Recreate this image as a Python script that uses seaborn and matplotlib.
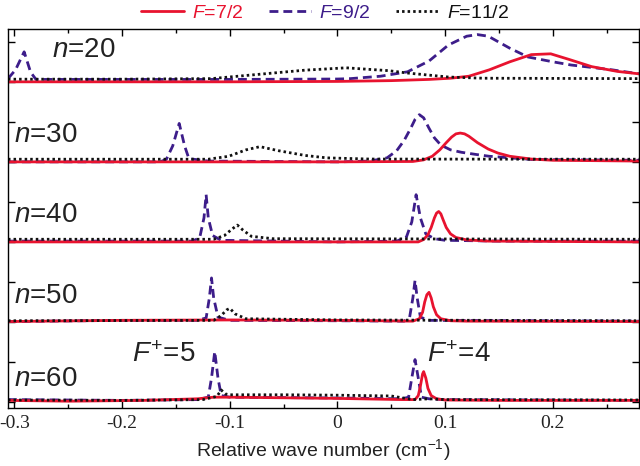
import numpy as np
import pandas as pd
import matplotlib
matplotlib.use('Agg')
import matplotlib.pyplot as plt
import seaborn as sns
from matplotlib.ticker import MultipleLocator, FuncFormatter
from matplotlib.lines import Line2D

# spectra: relative wave number (cm-1) vs signal
x20_r = [-0.306, -0.2, -0.1, 0.0, 0.05, 0.085, 0.105, 0.122, 0.141, 0.16, 0.18, 0.198, 0.215, 0.236, 0.26, 0.28]
y20_r = [0, 0, 0, 0.005, 0.015, 0.03, 0.045, 0.07, 0.15, 0.25, 0.34, 0.35, 0.28, 0.19, 0.13, 0.1]
x20_b = [-0.306, -0.299, -0.291, -0.285, -0.28, -0.25, -0.1, 0.0, 0.012, 0.04, 0.065, 0.085, 0.103, 0.12, 0.13,
         0.14, 0.16, 0.177, 0.2, 0.217, 0.255, 0.28]
y20_b = [0.04, 0.15, 0.375, 0.12, 0.03, 0.03, 0.03, 0.035, 0.04, 0.07, 0.125, 0.26, 0.46, 0.57, 0.59,
         0.57, 0.42, 0.31, 0.25, 0.21, 0.15, 0.1]
x20_k = [-0.306, -0.2, -0.117, -0.068, -0.03, 0.008, 0.047, 0.065, 0.103, 0.135, 0.28]
y20_k = [0.033, 0.033, 0.04, 0.1, 0.146, 0.175, 0.14, 0.11, 0.06, 0.045, 0.04]

x30_r = [-0.306, 0.0, 0.07, 0.08, 0.088, 0.095, 0.101, 0.106, 0.11, 0.114, 0.118, 0.122, 0.13, 0.14, 0.149,
         0.16, 0.18, 0.2, 0.28]
y30_r = [0, 0, 0.005, 0.025, 0.07, 0.15, 0.24, 0.31, 0.35, 0.36, 0.35, 0.32, 0.24, 0.16, 0.11,
         0.07, 0.035, 0.02, 0.01]
x30_b = [-0.306, -0.165, -0.159, -0.153, -0.147, -0.142, -0.138, -0.12, 0.0, 0.03, 0.046, 0.055, 0.062, 0.068,
         0.072, 0.076, 0.08, 0.085, 0.09, 0.096, 0.105, 0.115, 0.13, 0.141, 0.18, 0.28]
y30_b = [0.0, 0.0, 0.03, 0.2, 0.48, 0.2, 0.04, 0.01, 0.0, 0.01, 0.05, 0.14, 0.27, 0.42,
         0.53, 0.59, 0.55, 0.42, 0.3, 0.21, 0.15, 0.12, 0.09, 0.07, 0.03, 0.02]
x30_k = [-0.306, -0.12, -0.101, -0.085, -0.072, -0.055, -0.03, -0.01, 0.03, 0.28]
y30_k = [0.033, 0.033, 0.07, 0.15, 0.19, 0.14, 0.08, 0.05, 0.035, 0.033]

x40_r = [-0.306, 0.0, 0.075, 0.08, 0.084, 0.087, 0.09, 0.092, 0.094, 0.096, 0.098, 0.101, 0.105, 0.11, 0.12,
         0.14, 0.28]
y40_r = [0, 0, 0.0, 0.03, 0.09, 0.18, 0.3, 0.36, 0.38, 0.35, 0.28, 0.18, 0.1, 0.055, 0.025,
         0.01, 0.0]
x40_b = [-0.306, -0.135, -0.128, -0.124, -0.122, -0.12, -0.116, -0.108, 0.0, 0.055, 0.064, 0.069, 0.073,
         0.077, 0.082, 0.09, 0.1, 0.15, 0.28]
y40_b = [0.01, 0.01, 0.05, 0.3, 0.59, 0.3, 0.08, 0.02, 0.0, 0.01, 0.06, 0.25, 0.59,
         0.3, 0.1, 0.04, 0.02, 0.01, 0.01]
x40_k = [-0.306, -0.115, -0.105, -0.098, -0.093, -0.088, -0.08, -0.06, 0.28]
y40_k = [0.033, 0.033, 0.08, 0.16, 0.21, 0.15, 0.07, 0.04, 0.033]

x50_r = [-0.306, -0.2, -0.1, 0.0, 0.07, 0.076, 0.079, 0.081, 0.083, 0.085, 0.087, 0.089, 0.092, 0.096, 0.105,
         0.12, 0.28]
y50_r = [0.005, 0.02, 0.025, 0.02, 0.01, 0.04, 0.12, 0.25, 0.34, 0.37, 0.3, 0.19, 0.09, 0.04, 0.015,
         0.01, 0.005]
x50_b = [-0.306, -0.2, -0.13, -0.122, -0.119, -0.117, -0.115, -0.111, -0.1, 0.0, 0.062, 0.067, 0.07,
         0.072, 0.074, 0.077, 0.085, 0.28]
y50_b = [0.005, 0.02, 0.02, 0.05, 0.3, 0.55, 0.3, 0.06, 0.02, 0.015, 0.01, 0.06, 0.3,
         0.52, 0.3, 0.06, 0.02, 0.01]
x50_k = [-0.306, -0.115, -0.108, -0.103, -0.1, -0.095, -0.085, 0.0, 0.28]
y50_k = [0.015, 0.02, 0.08, 0.15, 0.17, 0.1, 0.04, 0.025, 0.015]

x60_r = [-0.306, -0.25, -0.18, -0.13, -0.115, -0.1, 0.0, 0.06, 0.072, 0.075, 0.077, 0.079, 0.08, 0.082,
         0.084, 0.087, 0.092, 0.1, 0.15, 0.28]
y60_r = [0.02, 0.01, 0.02, 0.04, 0.06, 0.06, 0.045, 0.03, 0.03, 0.08, 0.2, 0.35, 0.38, 0.3,
         0.17, 0.08, 0.04, 0.025, 0.02, 0.02]
x60_b = [-0.306, -0.2, -0.13, -0.12, -0.117, -0.114, -0.111, -0.108, -0.1, 0.0, 0.06, 0.066, 0.069,
         0.072, 0.075, 0.078, 0.085, 0.1, 0.28]
y60_b = [0.03, 0.02, 0.03, 0.06, 0.3, 0.63, 0.3, 0.08, 0.06, 0.05, 0.04, 0.06, 0.3,
         0.53, 0.3, 0.06, 0.04, 0.03, 0.02]
x60_k = [-0.306, -0.2, -0.125, -0.112, -0.108, -0.104, -0.1, -0.05, 0.0, 0.05, 0.07, 0.085, 0.1, 0.28]
y60_k = [0.025, 0.02, 0.03, 0.07, 0.15, 0.1, 0.09, 0.09, 0.085, 0.075, 0.03, 0.04, 0.03, 0.025]

n_values = [20, 30, 40, 50, 60]
f_labels = ['$F$=7/2', '$F$=9/2', '$F$=11/2']
fplus_labels = ['$F^{+}$=5', '$F^{+}$=4']
fplus_x = [-0.161, 0.113]
xticks = [-0.3, -0.2, -0.1, 0, 0.1, 0.2]

spectra = {
    20: [(x20_r, y20_r), (x20_b, y20_b), (x20_k, y20_k)],
    30: [(x30_r, y30_r), (x30_b, y30_b), (x30_k, y30_k)],
    40: [(x40_r, y40_r), (x40_b, y40_b), (x40_k, y40_k)],
    50: [(x50_r, y50_r), (x50_b, y50_b), (x50_k, y50_k)],
    60: [(x60_r, y60_r), (x60_b, y60_b), (x60_k, y60_k)],
}

sns.set_theme(style='ticks')
plt.rcParams['font.family'] = ['Liberation Sans', 'DejaVu Sans']
plt.rcParams['mathtext.fontset'] = 'custom'
plt.rcParams['mathtext.it'] = 'Liberation Sans:italic'
plt.rcParams['mathtext.rm'] = 'Liberation Sans'
plt.rcParams['axes.unicode_minus'] = False

red = '#e8132f'
blue = '#3d1d8a'
black = '#111111'
colors = [red, blue, black]
styles = [dict(linestyle='-'), dict(dashes=(3.2, 1.8)), dict(dashes=(0.9, 1.1))]
lw = 2.0

fig = plt.figure(figsize=(6.4, 4.66), dpi=100)
ax = fig.add_axes([8 / 640, 1 - 408 / 466, 631 / 640, 379 / 466])

text_col = '#222222'
for i, n in enumerate(n_values):
    off = 4 - i
    # draw order: dashed, solid, dotted
    for j in [1, 0, 2]:
        xs, ys = spectra[n][j]
        df = pd.DataFrame({'x': xs, 'y': np.array(ys) + off})
        sns.lineplot(data=df, x='x', y='y', ax=ax, color=colors[j], lw=lw,
                     sort=False, estimator=None, **styles[j])
        ax.lines[-1].set_dash_capstyle('butt')
    if n == 20:
        tx, ty = -0.2356, off + 0.4
    else:
        tx, ty = -0.271, off + (0.29 if n == 60 else 0.33)
    ax.text(tx, ty, f'$n$={n}', fontsize=20, color=text_col, ha='center', va='center')

for lab, fx in zip(fplus_labels, fplus_x):
    ax.text(fx, 0.59, lab, fontsize=20, color=text_col, ha='center', va='center')

ax.set_xlim(-0.306, 0.28)
ax.set_ylim(-0.075, 4.66)
ax.xaxis.set_major_locator(MultipleLocator(0.1))
ax.xaxis.set_minor_locator(MultipleLocator(0.05))
ax.set_xticks(xticks)
ax.xaxis.set_major_formatter(FuncFormatter(lambda v, p: f'{v:g}'))
ax.yaxis.set_major_locator(MultipleLocator(0.5))
ax.set_yticklabels([])
ax.tick_params(which='both', direction='in', top=True, right=True, color='black')
ax.tick_params(which='major', length=5, width=1)
ax.tick_params(which='minor', length=3, width=1)
ax.tick_params(axis='x', labelsize=14, labelcolor=text_col, pad=5)
for t in ax.get_xticklabels():
    t.set_fontfamily('Liberation Serif')
for s in ax.spines.values():
    s.set_linewidth(1.0)
    s.set_color('black')
ax.set_ylabel('')
ax.set_xlabel('Relative wave number (cm$^{-1}$)', fontsize=14, color=text_col, labelpad=4)

handles = [Line2D([], [], color=c, lw=lw, **st) for c, st in zip(colors, styles)]
fig.legend(handles, f_labels, loc='center', bbox_to_anchor=(0.508, 0.972), ncol=3, frameon=False,
           fontsize=14, handlelength=2.2, columnspacing=1.3, handletextpad=0.4, labelcolor=colors)

fig.savefig('out.png', dpi=100)
